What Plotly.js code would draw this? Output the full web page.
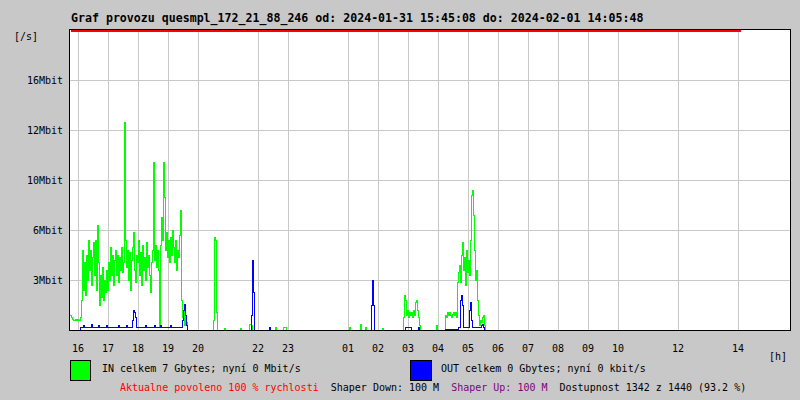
<!DOCTYPE html>
<html>
<head>
<meta charset="utf-8">
<script src="https://cdn.plot.ly/plotly-3.0.1.min.js"></script>
<style>
  html, body { margin: 0; padding: 0; background: #c8c8c8; }
  #chart { width: 800px; height: 400px; }
  #chart .scatterlayer path, #chart .gridlayer path, #chart .shapelayer path { shape-rendering: crispEdges; }
</style>
</head>
<body>
<div id="chart"></div>
<script>
// ---------------- DATA ----------------
const hostName = 'quesmpl_172_21_88_246';
const periodStart = '2024-01-31 15:45:08';
const periodEnd = '2024-02-01 14:05:48';

// Dense section: one sample every 2 minutes starting at 15:44 (Mbit/s)
const denseStart = '2024-01-31 15:44';
const sampleMinutes = 2;
const inDenseMbit = [
  0.96,0.77,0.70,0.64,0.64,0.70,0.64,0.70,0.64,0.64,
  0.77,1.92,5.12,2.56,4.35,2.24,4.80,3.20,5.76,3.84,
  5.12,2.88,4.61,5.57,3.52,5.76,2.56,6.66,4.35,1.60,
  3.52,2.05,3.97,1.92,3.20,2.37,3.84,2.56,4.35,3.20,
  5.31,3.52,4.80,2.88,4.48,5.12,3.52,4.80,3.07,4.61,
  3.84,5.25,3.71,4.35,13.25,5.76,3.97,5.12,3.20,4.99,
  2.56,4.48,5.31,6.21,3.84,3.01,4.80,4.35,5.76,3.52,
  4.99,2.88,5.44,3.84,4.61,3.20,5.57,3.97,4.80,3.52,
  2.43,4.35,5.12,10.69,4.48,5.44,3.97,5.12,3.84,0.19,
  5.44,7.23,5.76,10.69,8.50,5.12,6.27,4.61,5.76,4.35,
  5.95,4.80,6.40,5.25,4.35,5.76,3.84,5.12,4.61,6.08,
  7.68,1.92,0.77,1.28,0.32,0.96,0.51,0
];
const outDenseMbit = [
  0,0,0,0,0,0,0,0,0,0,
  0.13,0.13,0.13,0.32,0.13,0.13,0.13,0.13,0.13,0.13,
  0.13,0.38,0.13,0.13,0.13,0.13,0.13,0.13,0.26,0.13,
  0.13,0.13,0.13,0.13,0.13,0.13,0.32,0.13,0.13,0.13,
  0.13,0.13,0.13,0.19,0.13,0.13,0.13,0.13,0.26,0.13,
  0.13,0.13,0.13,0.13,0.13,0.13,0.32,0.13,0.13,0.13,
  0.13,0.13,0.64,1.28,1.15,0.77,0.19,0.13,0.13,0.13,
  0.13,0.13,0.13,0.13,0.13,0.26,0.13,0.13,0.13,0.13,
  0.13,0.13,0.13,0.13,0.32,0.13,0.13,0.13,0.13,0.13,
  0.26,0.13,0.13,0.13,0.13,0.13,0.13,0.13,0.13,0.13,
  0.26,0.13,0.13,0.13,0.13,0.13,0.13,0.13,0.13,0.13,
  0.13,0.19,0.64,1.28,1.66,0.90,0.32,0
];

// Later, sparse activity (time, Mbit/s)
const inSparseTime = [
  '2024-01-31 20:28','2024-01-31 20:30','2024-01-31 20:32','2024-01-31 20:34','2024-01-31 20:36','2024-01-31 20:38',
  '2024-01-31 20:52','2024-01-31 20:54','2024-01-31 21:24','2024-01-31 21:26',
  '2024-01-31 21:42','2024-01-31 21:44','2024-01-31 21:46','2024-01-31 21:48',
  '2024-01-31 22:34','2024-01-31 22:36','2024-01-31 22:50','2024-01-31 22:56',
  '2024-02-01 01:02','2024-02-01 01:04','2024-02-01 01:24','2024-02-01 01:26','2024-02-01 01:34','2024-02-01 01:36',
  '2024-02-01 02:08','2024-02-01 02:10',
  '2024-02-01 02:50','2024-02-01 02:52','2024-02-01 02:54','2024-02-01 02:56','2024-02-01 02:58','2024-02-01 03:00',
  '2024-02-01 03:02','2024-02-01 03:04','2024-02-01 03:06','2024-02-01 03:08','2024-02-01 03:10','2024-02-01 03:12',
  '2024-02-01 03:14','2024-02-01 03:16','2024-02-01 03:18','2024-02-01 03:20','2024-02-01 03:22','2024-02-01 03:24',
  '2024-02-01 03:56','2024-02-01 03:58',
  '2024-02-01 04:14','2024-02-01 04:16','2024-02-01 04:18','2024-02-01 04:20','2024-02-01 04:22','2024-02-01 04:24',
  '2024-02-01 04:26','2024-02-01 04:28','2024-02-01 04:30','2024-02-01 04:32','2024-02-01 04:34','2024-02-01 04:36',
  '2024-02-01 04:38','2024-02-01 04:40','2024-02-01 04:42','2024-02-01 04:44','2024-02-01 04:46','2024-02-01 04:48',
  '2024-02-01 04:50','2024-02-01 04:52','2024-02-01 04:54','2024-02-01 04:56','2024-02-01 04:58','2024-02-01 05:00',
  '2024-02-01 05:02','2024-02-01 05:04','2024-02-01 05:06','2024-02-01 05:08','2024-02-01 05:10','2024-02-01 05:12',
  '2024-02-01 05:14','2024-02-01 05:16','2024-02-01 05:18','2024-02-01 05:20','2024-02-01 05:22','2024-02-01 05:24',
  '2024-02-01 05:26','2024-02-01 05:28','2024-02-01 05:30','2024-02-01 05:32','2024-02-01 05:34'
];
const inSparseMbit = [
  0,0.64,5.95,5.70,1.15,0,
  0.1,0,0.1,0,
  0.38,0.38,0.26,0,
  0.13,0,0.13,0,
  0.13,0,0.38,0,0.13,0,
  0.1,0,
  0.77,2.18,1.92,0.96,1.28,0.77,
  1.15,0.96,1.15,0.77,1.22,0.90,
  1.73,1.92,1.28,0.77,0.26,0,
  0.32,0,
  0.90,0.77,1.09,0.90,1.15,0.96,
  0.77,1.02,1.15,0.90,1.09,0.77,
  3.01,3.71,4.16,3.07,4.80,5.57,
  3.84,4.61,2.88,5.12,3.71,4.48,
  3.52,5.76,8.64,8.96,7.36,5.12,
  3.20,3.84,1.92,0.96,0.32,0.64,
  0.51,0.77,0.96,0.32,0
];
const outSparseTime = [
  '2024-01-31 21:46','2024-01-31 21:48','2024-01-31 21:50','2024-01-31 21:52',
  '2024-01-31 22:22','2024-01-31 22:24',
  '2024-02-01 01:46','2024-02-01 01:48','2024-02-01 01:50','2024-02-01 01:52',
  '2024-02-01 02:54','2024-02-01 03:04','2024-02-01 03:06','2024-02-01 03:20','2024-02-01 03:22',
  '2024-02-01 04:14','2024-02-01 04:40','2024-02-01 04:44','2024-02-01 04:46','2024-02-01 04:48',
  '2024-02-01 04:50','2024-02-01 04:52','2024-02-01 05:02','2024-02-01 05:04','2024-02-01 05:06',
  '2024-02-01 05:08','2024-02-01 05:26','2024-02-01 05:28','2024-02-01 05:30','2024-02-01 05:32'
];
const outSparseMbit = [
  0.90,4.48,2.37,0,
  0.19,0,
  1.60,3.14,1.60,0,
  0.13,0.13,0,0.19,0,
  0.06,0.13,1.92,2.24,1.60,
  0.19,0.13,1.28,1.79,0.64,
  0.13,0.32,0.38,0.19,0
];

// Axis
const xRange = ['2024-01-31 15:44', '2024-02-01 15:44'];
const yMaxMbit = 19.2;
const xTickVals = [
  '2024-01-31 16:00','2024-01-31 17:00','2024-01-31 18:00','2024-01-31 19:00','2024-01-31 20:00',
  '2024-01-31 22:00','2024-01-31 23:00','2024-02-01 01:00','2024-02-01 02:00','2024-02-01 03:00',
  '2024-02-01 04:00','2024-02-01 05:00','2024-02-01 06:00','2024-02-01 07:00','2024-02-01 08:00',
  '2024-02-01 09:00','2024-02-01 10:00','2024-02-01 12:00','2024-02-01 14:00'
];
const xTickText = ['16','17','18','19','20','22','23','01','02','03','04','05','06','07','08','09','10','12','14'];
const yTickVals = [3.2, 6.4, 9.6, 12.8, 16];
const yTickText = ['3Mbit','6Mbit','10Mbit','12Mbit','16Mbit'];

const inLegend = 'IN celkem 7 Gbytes; nyní 0 Mbit/s';
const outLegend = 'OUT celkem 0 Gbytes; nyní 0 kbit/s';
const statusAllowed = 'Aktualne povoleno 100 % rychlosti';
const statusDown = 'Shaper Down: 100 M';
const statusUp = 'Shaper Up: 100 M';
const statusAvail = 'Dostupnost 1342 z 1440 (93.2 %)';

// ---------------- BUILD ----------------
function pad(n){ return (n < 10 ? '0' : '') + n; }
function denseTimes(count) {
  const m = denseStart.match(/(\d+)-(\d+)-(\d+) (\d+):(\d+)/);
  const base = Date.UTC(+m[1], +m[2]-1, +m[3], +m[4], +m[5]);
  const out = [];
  for (let i = 0; i < count; i++) {
    const d = new Date(base + i * sampleMinutes * 60000);
    out.push(d.getUTCFullYear() + '-' + pad(d.getUTCMonth()+1) + '-' + pad(d.getUTCDate()) + ' ' +
             pad(d.getUTCHours()) + ':' + pad(d.getUTCMinutes()));
  }
  return out;
}
const dT = denseTimes(inDenseMbit.length);

const MONO = 'DejaVu Sans Mono, Liberation Mono, monospace';

const traces = [
  {
    x: dT.concat(inSparseTime), y: inDenseMbit.concat(inSparseMbit),
    type: 'scatter', mode: 'lines', line: { color: '#00ff00', width: 1, shape: 'hv' },
    name: 'IN', hoverinfo: 'skip'
  },
  {
    x: denseTimes(outDenseMbit.length).concat(outSparseTime), y: outDenseMbit.concat(outSparseMbit),
    type: 'scatter', mode: 'lines', line: { color: '#0000ff', width: 1, shape: 'hv' },
    name: 'OUT', hoverinfo: 'skip'
  }
];

const nb = s => s.replace(/ /g, '\u00a0');

const layout = {
  width: 800, height: 400,
  margin: { l: 70, r: 10, t: 30, b: 70, pad: 0 },
  paper_bgcolor: '#c8c8c8',
  plot_bgcolor: '#ffffff',
  showlegend: false,
  font: { family: MONO, size: 10, color: '#000' },
  xaxis: {
    type: 'date', range: xRange, tickmode: 'array', tickvals: xTickVals, ticktext: xTickText,
    showgrid: true, gridcolor: '#c8c8c8', gridwidth: 1,
    showline: true, linecolor: '#000', linewidth: 1, mirror: true,
    ticks: '', zeroline: false, ticklabelstandoff: 9,
    tickfont: { family: MONO, size: 10, color: '#000' }, fixedrange: true
  },
  yaxis: {
    range: [0, yMaxMbit], tickmode: 'array', tickvals: yTickVals, ticktext: yTickText,
    showgrid: true, gridcolor: '#c8c8c8', gridwidth: 1,
    showline: true, linecolor: '#000', linewidth: 1, mirror: true,
    ticks: '', zeroline: false, ticklabelstandoff: 4,
    tickfont: { family: MONO, size: 10, color: '#000' }, fixedrange: true
  },
  shapes: [
    { type: 'line', xref: 'x', yref: 'paper', x0: periodStart, x1: periodEnd, y0: 0.9963, y1: 0.9963,
      line: { color: '#ff0000', width: 1.5 }, layer: 'above' },
    { type: 'rect', xref: 'paper', yref: 'paper', x0: 0, x1: 0.02778, y0: -0.1, y1: -0.1667,
      fillcolor: '#00ff00', line: { color: '#000', width: 1 } },
    { type: 'rect', xref: 'paper', yref: 'paper', x0: 0.4736, x1: 0.5014, y0: -0.1, y1: -0.1667,
      fillcolor: '#0000ff', line: { color: '#000', width: 1 } }
  ],
  annotations: [
    { xref: 'paper', yref: 'paper', x: -0.0014, y: 1.0367, xanchor: 'left', yanchor: 'middle', showarrow: false,
      text: '<b>' + nb('Graf provozu ' + hostName + ' od: ' + periodStart + ' do: ' + periodEnd) + '</b>',
      font: { family: MONO, size: 11.6, color: '#000' } },
    { xref: 'paper', yref: 'paper', x: -0.0611, y: 0.9767, xanchor: 'center', yanchor: 'middle', showarrow: false,
      text: '[/s]', font: { family: MONO, size: 10, color: '#000' } },
    { xref: 'paper', yref: 'paper', x: 0.9833, y: -0.0867, xanchor: 'center', yanchor: 'middle', showarrow: false,
      text: '[h]', font: { family: MONO, size: 10, color: '#000' } },
    { xref: 'paper', yref: 'paper', x: 0.04167, y: -0.1267, xanchor: 'left', yanchor: 'middle', showarrow: false,
      text: nb(inLegend), font: { family: MONO, size: 10, color: '#000' } },
    { xref: 'paper', yref: 'paper', x: 0.5125, y: -0.1267, xanchor: 'left', yanchor: 'middle', showarrow: false,
      text: nb(outLegend), font: { family: MONO, size: 10, color: '#000' } },
    { xref: 'paper', yref: 'paper', x: 0.0667, y: -0.19, xanchor: 'left', yanchor: 'middle', showarrow: false,
      text: '<span style="color:#ff0000">' + nb(statusAllowed) + '</span>' + nb('  ') +
            '<span style="color:#000000">' + nb(statusDown) + '</span>' + nb('  ') +
            '<span style="color:#800080">' + nb(statusUp) + '</span>' + nb('  ') +
            '<span style="color:#000000">' + nb(statusAvail) + '</span>',
      font: { family: MONO, size: 10, color: '#000' } }
  ]
};

Plotly.newPlot('chart', traces, layout, { staticPlot: true, displayModeBar: false });
</script>
</body>
</html>
